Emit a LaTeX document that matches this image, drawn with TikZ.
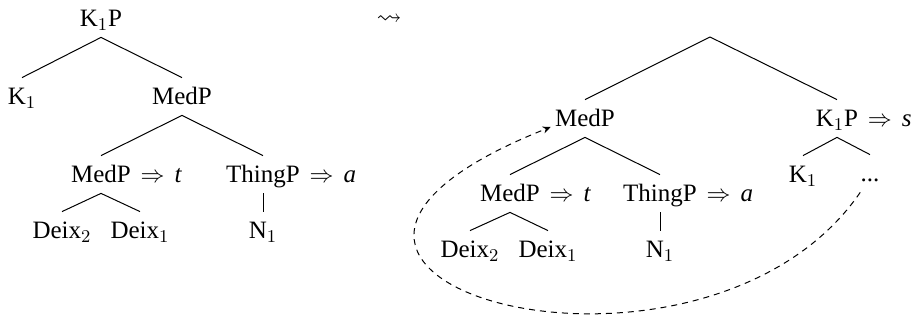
\documentclass[tikz,border=0pt]{standalone}
\usepackage{amssymb}
\usepackage{fontspec}
\setmainfont{Liberation Serif}
\usetikzlibrary{arrows.meta}
\begin{document}
\begin{tikzpicture}[x=0.5pt,y=-0.5pt,
  font=\fontsize{12.5}{15}\selectfont,
  cat/.style={anchor=base,inner sep=0pt,text height=13.5pt,text depth=5pt},
  lab/.style={anchor=base west,inner sep=0pt,xshift=4.5pt},
  edge/.style={line width=0.5pt},
  move/.style={line width=0.5pt,dash pattern=on 3pt off 2.5pt,-{Stealth[length=4pt,width=3.5pt]}}]
\useasboundingbox (0,0) rectangle (918,320);
% left tree
\node[cat] (lK1P) at (101,27) {K$_1$P};
\node[cat] (lK1) at (22,105) {K$_1$};
\node[cat] (lMed) at (182,105) {MedP};
\node[cat] (lMed2) at (101,183) {MedP};
\node[lab] (lMed2L) at (lMed2.base east) {$\Rightarrow$\hspace{5pt}\textit{t}};
\node[cat] (lThing) at (263,183) {ThingP};
\node[lab] (lThingL) at (lThing.base east) {$\Rightarrow$\hspace{5pt}\textit{a}};
\node[cat] (lD2) at (62,239) {Deix$_2$};
\node[cat] (lD1) at (140,239) {Deix$_1$};
\node[cat] (lN1) at (263,239) {N$_1$};
\draw[edge] (lK1P.south) -- (lK1.north);
\draw[edge] (lK1P.south) -- (lMed.north);
\draw[edge] (lMed.south) -- (lMed2.north);
\draw[edge] (lMed.south) -- (lThing.north);
\draw[edge] (lMed2.south) -- (lD2.north);
\draw[edge] (lMed2.south) -- (lD1.north);
\draw[edge] (lThing.south) -- (lN1.north);
% leadsto
\node[inner sep=0pt] (lt) at (389,20) {$\leadsto$};
% right tree
\coordinate (root) at (710,37);
\node[cat] (rMed) at (585,127) {MedP};
\node[cat] (rK1P) at (837,127) {K$_1$P};
\node[lab] (rK1PL) at (rK1P.base east) {$\Rightarrow$\hspace{5pt}\textit{s}};
\node[cat] (rMed2) at (510,202) {MedP};
\node[lab] (rMed2L) at (rMed2.base east) {$\Rightarrow$\hspace{5pt}\textit{t}};
\node[cat] (rThing) at (660,202) {ThingP};
\node[lab] (rThingL) at (rThing.base east) {$\Rightarrow$\hspace{5pt}\textit{a}};
\node[cat] (rK1) at (803,183) {K$_1$};
\node[cat] (rdots) at (870,182) {...};
\node[cat] (rD2) at (470,258) {Deix$_2$};
\node[cat] (rD1) at (548,258) {Deix$_1$};
\node[cat] (rN1) at (660,258) {N$_1$};
\draw[edge] (root) -- (rMed.north);
\draw[edge] (root) -- (rK1P.north);
\draw[edge] (rMed.south) -- (rMed2.north);
\draw[edge] (rMed.south) -- (rThing.north);
\draw[edge] (rK1P.south) -- (rK1.north);
\draw[edge] (rK1P.south) -- (rdots.north);
\draw[edge] (rMed2.south) -- (rD2.north);
\draw[edge] (rMed2.south) -- (rD1.north);
\draw[edge] (rThing.south) -- (rN1.north);
% movement arrow
\draw[move] (rdots.south west) .. controls (700,425) and (170,278) .. ([xshift=-2pt]rMed.base west);
\end{tikzpicture}
\end{document}
